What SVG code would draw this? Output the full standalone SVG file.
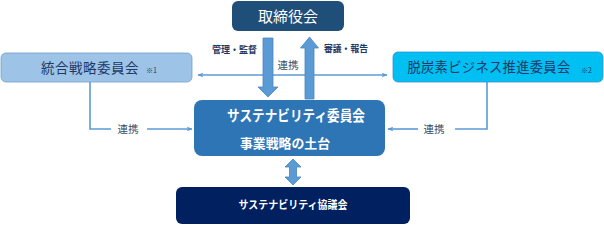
<svg xmlns="http://www.w3.org/2000/svg" width="604" height="225" viewBox="0 0 604 225">
<style>
text{font-family:"Noto Sans CJK JP","Noto Sans CJK SC",sans-serif;}
.w{fill:#fff;font-weight:bold;text-anchor:middle;}
.d{fill:#1f3864;text-anchor:middle;}
.lab{fill:#1f3864;font-weight:bold;font-size:9.5px;}
.ren{fill:#3b4a60;font-size:10.5px;text-anchor:middle;}
.note{fill:#1f3864;font-size:7px;}
.ln{fill:none;stroke:#5b9bd5;stroke-width:1.6;}
.big{fill:#5b9bd5;stroke:#4a85c0;stroke-width:0.8;}
</style>
<defs>
<marker id="ah" viewBox="0 0 10 10" refX="9" refY="5" markerWidth="6" markerHeight="6" orient="auto-start-reverse" markerUnits="userSpaceOnUse">
<path d="M0,1 L10,5 L0,9 L3,5 Z" fill="#5b9bd5"/>
</marker>
</defs>
<g id="connectors">
<line class="ln" x1="198" y1="75" x2="387" y2="75" marker-start="url(#ah)" marker-end="url(#ah)"/>
<text class="ren" x="288" y="69">連携</text>
<polyline class="ln" points="90,82 90,129 111,129"/>
<line class="ln" x1="147" y1="129" x2="192" y2="129" marker-end="url(#ah)"/>
<text class="ren" x="128" y="133">連携</text>
<polyline class="ln" points="487,82 487,129 455,129"/>
<line class="ln" x1="418" y1="129" x2="388" y2="129" marker-end="url(#ah)"/>
<text class="ren" x="434" y="133">連携</text>
<path class="big" d="M263,38 H273 V87 H278 L268,97 L258,87 H263 Z"/>
<path class="big" d="M305,99 V48 H300.5 L309.5,37 L318.5,48 H314 V99 Z"/>
<path class="big" d="M293,159 L301,167 H296.5 V177 H301 L293,185 L285,177 H289.5 V167 H285 Z"/>
<text class="lab" x="212" y="53" textLength="45" lengthAdjust="spacingAndGlyphs">管理・監督</text>
<text class="lab" x="324" y="52" textLength="44" lengthAdjust="spacingAndGlyphs">審議・報告</text>
</g>
<g id="board">
<rect x="232" y="1" width="112" height="30" rx="6" fill="#1f4e79"/>
<text class="w" x="288" y="21.5" font-size="15" style="font-weight:normal">取締役会</text>
</g>
<g id="integrated">
<rect x="1" y="53" width="191" height="29" rx="5" fill="#9dc3e6" stroke="#6e9fd1" stroke-width="0.8"/>
<text class="d" x="90" y="72.5" font-size="13.5" letter-spacing="0.5">統合戦略委員会</text>
<text class="note" x="146" y="73">※1</text>
</g>
<g id="decarbon">
<rect x="393" y="52" width="210" height="30" rx="5" fill="#00bff3" stroke="#3a8fd0" stroke-width="0.8"/>
<text class="d" x="489" y="72" font-size="13.3" letter-spacing="0.3">脱炭素ビジネス推進委員会</text>
<text class="note" x="581" y="73">※2</text>
</g>
<g id="sustain">
<rect x="194" y="100" width="191" height="56" rx="8" fill="#2e75b6"/>
<text class="w" x="296" y="120.5" font-size="14.5" textLength="138" lengthAdjust="spacingAndGlyphs">サステナビリティ委員会</text>
<text class="w" x="285" y="148" font-size="13" textLength="90" lengthAdjust="spacingAndGlyphs">事業戦略の土台</text>
</g>
<g id="council">
<rect x="176" y="187" width="234" height="37" rx="6" fill="#002060"/>
<text class="w" x="293" y="209" font-size="11" textLength="109" lengthAdjust="spacingAndGlyphs">サステナビリティ協議会</text>
</g>
</svg>
